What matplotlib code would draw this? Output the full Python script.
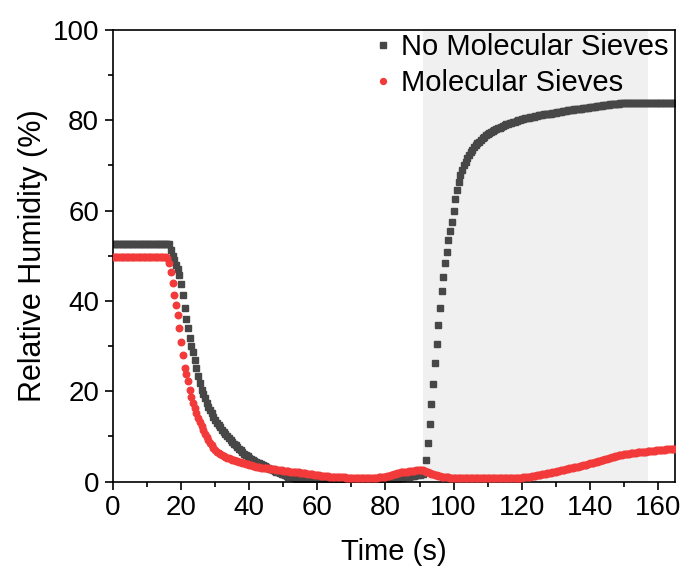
import numpy as np
import matplotlib
matplotlib.use("Agg")
import matplotlib.pyplot as plt
from matplotlib.ticker import MultipleLocator

plt.rcParams['font.family'] = ['Liberation Sans', 'DejaVu Sans']

# sample times (s), 0.5 s sampling
time_s = np.arange(0, 165.01, 0.5)

no_sieves = [
    52.7, 52.7, 52.7, 52.7, 52.7, 52.7, 52.7, 52.7, 52.7, 52.7,
    52.7, 52.7, 52.7, 52.7, 52.7, 52.7, 52.7, 52.7, 52.7, 52.7,
    52.7, 52.7, 52.7, 52.7, 52.7, 52.7, 52.7, 52.7, 52.7, 52.7,
    52.7, 52.7, 52.7, 52.6, 51.3, 50.0, 49.0, 48.0, 47.0, 45.8,
    43.8, 41.3, 38.5, 35.9, 33.9, 31.7, 30.1, 28.6, 26.9, 25.1,
    23.4, 21.8, 20.3, 19.3, 18.4, 17.5, 16.6, 15.8, 15.1, 14.4,
    13.7, 13.0, 12.5, 12.0, 11.5, 11.0, 10.5, 10.0, 9.6, 9.2,
    8.8, 8.4, 8.0, 7.7, 7.3, 6.9, 6.5, 6.2, 5.9, 5.6,
    5.3, 5.0, 4.8, 4.6, 4.4, 4.2, 4.0, 3.8, 3.6, 3.4,
    3.2, 3.0, 2.8, 2.7, 2.5, 2.3, 2.2, 2.0, 1.9, 1.7,
    1.6, 1.4, 1.3, 1.1, 1.0, 0.9, 0.8, 0.7, 0.6, 0.5,
    0.4, 0.3, 0.2, 0.2, 0.1, 0.1, 0.0, 0.0, 0.0, 0.0,
    0.0, 0.0, 0.0, 0.0, 0.0, 0.0, 0.0, 0.0, 0.0, 0.0,
    0.0, 0.0, 0.0, 0.0, 0.0, 0.0, 0.0, 0.0, 0.0, 0.0,
    0.0, 0.0, 0.0, 0.0, 0.0, 0.0, 0.0, 0.0, 0.0, 0.0,
    0.0, 0.0, 0.0, 0.0, 0.0, 0.0, 0.0, 0.0, 0.0, 0.0,
    0.0, 0.1, 0.1, 0.2, 0.3, 0.4, 0.5, 0.6, 0.7, 0.8,
    0.8, 0.9, 1.0, 1.0, 1.1, 1.2, 1.2, 1.3, 1.4, 1.4,
    1.5, 1.6, 1.7, 2.0, 4.8, 8.6, 12.7, 17.2, 21.6, 26.2,
    30.5, 34.6, 38.4, 42.1, 45.2, 48.3, 50.9, 53.5, 55.5, 57.5,
    60.0, 62.5, 64.6, 66.3, 67.8, 69.0, 70.0, 70.8, 71.6, 72.3,
    72.9, 73.5, 74.0, 74.5, 74.9, 75.3, 75.7, 76.0, 76.4, 76.7,
    77.0, 77.2, 77.4, 77.6, 77.8, 78.0, 78.2, 78.4, 78.6, 78.8,
    78.9, 79.1, 79.2, 79.3, 79.5, 79.6, 79.7, 79.8, 80.0, 80.1,
    80.2, 80.3, 80.4, 80.5, 80.6, 80.7, 80.8, 80.8, 80.9, 81.0,
    81.1, 81.1, 81.2, 81.3, 81.3, 81.4, 81.5, 81.5, 81.6, 81.7,
    81.7, 81.8, 81.9, 81.9, 82.0, 82.0, 82.1, 82.2, 82.2, 82.3,
    82.3, 82.4, 82.5, 82.5, 82.6, 82.6, 82.7, 82.7, 82.8, 82.8,
    82.9, 82.9, 83.0, 83.0, 83.1, 83.1, 83.2, 83.2, 83.3, 83.3,
    83.4, 83.4, 83.5, 83.5, 83.6, 83.6, 83.7, 83.7, 83.8, 83.8,
    83.8, 83.8, 83.8, 83.9, 83.9, 83.9, 83.9, 83.9, 83.9, 83.9,
    83.9, 83.9, 83.9, 83.9, 83.9, 83.9, 83.9, 83.9, 83.9, 83.9,
    83.9, 83.9, 83.9, 83.9, 83.9, 83.9, 83.9, 83.9, 83.9, 83.9,
    83.9,
]

with_sieves = [
    49.7, 49.7, 49.7, 49.7, 49.7, 49.7, 49.7, 49.7, 49.7, 49.7,
    49.7, 49.7, 49.7, 49.7, 49.7, 49.7, 49.7, 49.7, 49.7, 49.7,
    49.7, 49.7, 49.7, 49.7, 49.7, 49.7, 49.7, 49.7, 49.7, 49.7,
    49.7, 49.7, 49.5, 48.3, 46.5, 44.0, 41.3, 39.2, 36.8, 34.0,
    31.0, 28.0, 25.2, 23.8, 22.3, 20.2, 18.8, 17.5, 16.3, 15.1,
    14.1, 13.2, 12.3, 11.4, 10.6, 9.9, 9.2, 8.5, 8.0, 7.5,
    7.0, 6.6, 6.3, 6.0, 5.8, 5.6, 5.4, 5.2, 5.1, 4.9,
    4.8, 4.7, 4.6, 4.5, 4.4, 4.3, 4.1, 4.0, 3.9, 3.8,
    3.7, 3.6, 3.5, 3.4, 3.3, 3.2, 3.2, 3.1, 3.0, 3.0,
    2.9, 2.9, 2.8, 2.8, 2.7, 2.7, 2.6, 2.6, 2.5, 2.5,
    2.4, 2.4, 2.3, 2.3, 2.2, 2.2, 2.1, 2.1, 2.0, 2.0,
    1.9, 1.9, 1.8, 1.8, 1.7, 1.7, 1.6, 1.6, 1.5, 1.5,
    1.4, 1.4, 1.3, 1.3, 1.2, 1.2, 1.2, 1.1, 1.1, 1.1,
    1.0, 1.0, 1.0, 0.9, 0.9, 0.9, 0.9, 0.8, 0.8, 0.8,
    0.8, 0.8, 0.7, 0.7, 0.7, 0.7, 0.7, 0.7, 0.7, 0.7,
    0.7, 0.7, 0.7, 0.8, 0.8, 0.8, 0.9, 0.9, 1.0, 1.0,
    1.1, 1.2, 1.3, 1.4, 1.5, 1.6, 1.7, 1.8, 1.9, 2.0,
    2.0, 2.1, 2.2, 2.2, 2.3, 2.3, 2.4, 2.4, 2.5, 2.5,
    2.6, 2.6, 2.5, 2.3, 2.1, 2.0, 1.8, 1.7, 1.6, 1.5,
    1.4, 1.3, 1.2, 1.1, 1.0, 1.0, 0.9, 0.9, 0.8, 0.8,
    0.8, 0.7, 0.7, 0.7, 0.7, 0.7, 0.7, 0.7, 0.7, 0.7,
    0.7, 0.7, 0.7, 0.7, 0.7, 0.7, 0.7, 0.7, 0.7, 0.7,
    0.7, 0.7, 0.7, 0.7, 0.7, 0.7, 0.7, 0.7, 0.7, 0.7,
    0.7, 0.7, 0.7, 0.7, 0.7, 0.7, 0.7, 0.8, 0.8, 0.8,
    0.8, 0.9, 0.9, 1.0, 1.0, 1.1, 1.2, 1.2, 1.3, 1.4,
    1.4, 1.5, 1.6, 1.6, 1.7, 1.8, 1.9, 1.9, 2.0, 2.1,
    2.2, 2.3, 2.4, 2.5, 2.6, 2.6, 2.7, 2.8, 2.9, 3.0,
    3.1, 3.2, 3.3, 3.3, 3.4, 3.5, 3.6, 3.7, 3.7, 3.9,
    4.0, 4.1, 4.2, 4.3, 4.4, 4.5, 4.6, 4.7, 4.8, 4.9,
    5.0, 5.2, 5.3, 5.4, 5.5, 5.6, 5.7, 5.8, 5.9, 5.9,
    6.0, 6.1, 6.2, 6.2, 6.3, 6.3, 6.4, 6.4, 6.5, 6.5,
    6.5, 6.6, 6.6, 6.6, 6.7, 6.7, 6.8, 6.8, 6.8, 6.9,
    6.9, 6.9, 7.0, 7.0, 7.0, 7.1, 7.1, 7.1, 7.1, 7.2,
    7.2,
]

shade_span = (91, 157)
labels = ["No Molecular Sieves", "Molecular Sieves"]

fig = plt.figure(figsize=(6.84, 5.71), dpi=100)
ax = fig.add_axes([0.1652, 0.1567, 0.8216, 0.7908])

ax.axvspan(shade_span[0], shade_span[1], color='#f0f0f0', lw=0, zorder=0)
ax.plot(time_s, no_sieves, linestyle='none', marker='s', ms=4.4,
        color='#474747', mec='#474747', label=labels[0], zorder=2)
ax.plot(time_s, with_sieves, linestyle='none', marker='o', ms=4.7,
        color='#f23a3a', mec='#f23a3a', label=labels[1], zorder=3)

ax.set_xlim(0, 165)
ax.set_ylim(0, 100)
ax.xaxis.set_major_locator(MultipleLocator(20))
ax.xaxis.set_minor_locator(MultipleLocator(10))
ax.yaxis.set_major_locator(MultipleLocator(20))
ax.yaxis.set_minor_locator(MultipleLocator(10))
ax.tick_params(axis='both', which='major', direction='out', length=6, width=1.2,
               labelsize=20, top=False, right=False, pad=4)
ax.tick_params(axis='both', which='minor', direction='out', length=3.5, width=1.2,
               top=False, right=False)
for s in ax.spines.values():
    s.set_linewidth(1.2)

ax.set_xlabel("Time (s)", fontsize=21, labelpad=12)
ax.set_ylabel("Relative Humidity (%)", fontsize=22, labelpad=3)

leg = ax.legend(loc='upper right', bbox_to_anchor=(0.993, 1.0), frameon=False,
                fontsize=21, handlelength=0.6, handletextpad=0.3,
                labelspacing=0.28, borderpad=0.1, borderaxespad=0.0,
                markerscale=0.9)

fig.savefig("out.png", dpi=100)
